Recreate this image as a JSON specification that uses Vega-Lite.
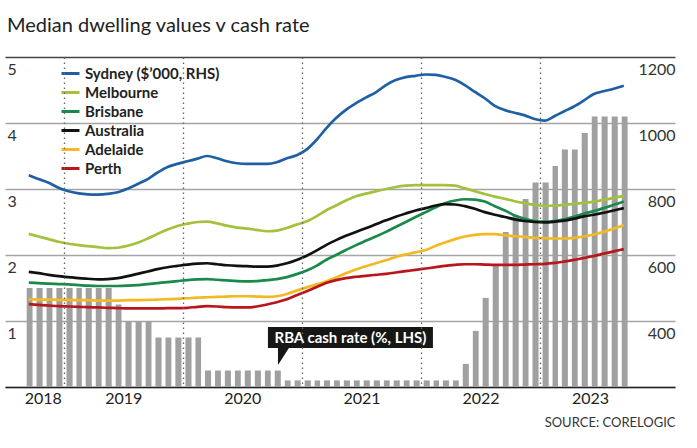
{
  "$schema": "https://vega.github.io/schema/vega-lite/v6.json",
  "width": 670,
  "height": 330,
  "autosize": {"type": "none"},
  "padding": {"left": 5, "top": 57, "right": 22, "bottom": 61},
  "background": "white",
  "title": {"text": "Median dwelling values v cash rate", "anchor": "start", "font": "Lato", "fontSize": 20, "fontWeight": "normal", "color": "#222", "baseline": "alphabetic", "offset": 5, "dx": 2},
  "config": {"view": {"stroke": null}, "font": "Lato"},
  "data": {"values": [
    {"date": "2018-09-15", "cash": 1.5, "Sydney": 842, "Melbourne": 664, "Brisbane": 516, "Australia": 549, "Adelaide": 466, "Perth": 451},
    {"date": "2018-10-15", "cash": 1.5, "Sydney": 830, "Melbourne": 656, "Brisbane": 515, "Australia": 545, "Adelaide": 465, "Perth": 449},
    {"date": "2018-11-15", "cash": 1.5, "Sydney": 819, "Melbourne": 648, "Brisbane": 513, "Australia": 540, "Adelaide": 465, "Perth": 447},
    {"date": "2018-12-15", "cash": 1.5, "Sydney": 804, "Melbourne": 640, "Brisbane": 512, "Australia": 536, "Adelaide": 464, "Perth": 445},
    {"date": "2019-01-15", "cash": 1.5, "Sydney": 793, "Melbourne": 634, "Brisbane": 511, "Australia": 533, "Adelaide": 464, "Perth": 444},
    {"date": "2019-02-15", "cash": 1.5, "Sydney": 787, "Melbourne": 630, "Brisbane": 509, "Australia": 530, "Adelaide": 463, "Perth": 443},
    {"date": "2019-03-15", "cash": 1.5, "Sydney": 784, "Melbourne": 627, "Brisbane": 507, "Australia": 528, "Adelaide": 463, "Perth": 442},
    {"date": "2019-04-15", "cash": 1.5, "Sydney": 783, "Melbourne": 624, "Brisbane": 506, "Australia": 526, "Adelaide": 462, "Perth": 441},
    {"date": "2019-05-15", "cash": 1.5, "Sydney": 785, "Melbourne": 621, "Brisbane": 506, "Australia": 527, "Adelaide": 462, "Perth": 440},
    {"date": "2019-06-15", "cash": 1.25, "Sydney": 790, "Melbourne": 622, "Brisbane": 506, "Australia": 530, "Adelaide": 462, "Perth": 439},
    {"date": "2019-07-15", "cash": 1.0, "Sydney": 801, "Melbourne": 628, "Brisbane": 507, "Australia": 536, "Adelaide": 463, "Perth": 438},
    {"date": "2019-08-15", "cash": 1.0, "Sydney": 815, "Melbourne": 637, "Brisbane": 509, "Australia": 543, "Adelaide": 463, "Perth": 438},
    {"date": "2019-09-15", "cash": 1.0, "Sydney": 830, "Melbourne": 650, "Brisbane": 512, "Australia": 550, "Adelaide": 464, "Perth": 438},
    {"date": "2019-10-15", "cash": 0.75, "Sydney": 850, "Melbourne": 664, "Brisbane": 515, "Australia": 557, "Adelaide": 465, "Perth": 438},
    {"date": "2019-11-15", "cash": 0.75, "Sydney": 867, "Melbourne": 677, "Brisbane": 518, "Australia": 563, "Adelaide": 466, "Perth": 439},
    {"date": "2019-12-15", "cash": 0.75, "Sydney": 876, "Melbourne": 688, "Brisbane": 521, "Australia": 567, "Adelaide": 467, "Perth": 439},
    {"date": "2020-01-15", "cash": 0.75, "Sydney": 884, "Melbourne": 695, "Brisbane": 524, "Australia": 571, "Adelaide": 469, "Perth": 440},
    {"date": "2020-02-15", "cash": 0.75, "Sydney": 892, "Melbourne": 700, "Brisbane": 526, "Australia": 574, "Adelaide": 471, "Perth": 443},
    {"date": "2020-03-15", "cash": 0.25, "Sydney": 900, "Melbourne": 701, "Brisbane": 527, "Australia": 575, "Adelaide": 472, "Perth": 445},
    {"date": "2020-04-15", "cash": 0.25, "Sydney": 893, "Melbourne": 696, "Brisbane": 525, "Australia": 572, "Adelaide": 473, "Perth": 444},
    {"date": "2020-05-15", "cash": 0.25, "Sydney": 884, "Melbourne": 689, "Brisbane": 523, "Australia": 569, "Adelaide": 474, "Perth": 442},
    {"date": "2020-06-15", "cash": 0.25, "Sydney": 878, "Melbourne": 683, "Brisbane": 521, "Australia": 567, "Adelaide": 475, "Perth": 441},
    {"date": "2020-07-15", "cash": 0.25, "Sydney": 876, "Melbourne": 680, "Brisbane": 520, "Australia": 566, "Adelaide": 475, "Perth": 441},
    {"date": "2020-08-15", "cash": 0.25, "Sydney": 876, "Melbourne": 676, "Brisbane": 521, "Australia": 565, "Adelaide": 474, "Perth": 444},
    {"date": "2020-09-15", "cash": 0.25, "Sydney": 876, "Melbourne": 672, "Brisbane": 524, "Australia": 565, "Adelaide": 473, "Perth": 450},
    {"date": "2020-10-15", "cash": 0.25, "Sydney": 881, "Melbourne": 674, "Brisbane": 527, "Australia": 568, "Adelaide": 475, "Perth": 457},
    {"date": "2020-11-15", "cash": 0.1, "Sydney": 893, "Melbourne": 682, "Brisbane": 533, "Australia": 575, "Adelaide": 482, "Perth": 466},
    {"date": "2020-12-15", "cash": 0.1, "Sydney": 902, "Melbourne": 692, "Brisbane": 542, "Australia": 585, "Adelaide": 492, "Perth": 478},
    {"date": "2021-01-15", "cash": 0.1, "Sydney": 920, "Melbourne": 702, "Brisbane": 553, "Australia": 598, "Adelaide": 502, "Perth": 490},
    {"date": "2021-02-15", "cash": 0.1, "Sydney": 950, "Melbourne": 718, "Brisbane": 568, "Australia": 614, "Adelaide": 511, "Perth": 503},
    {"date": "2021-03-15", "cash": 0.1, "Sydney": 983, "Melbourne": 735, "Brisbane": 585, "Australia": 630, "Adelaide": 520, "Perth": 515},
    {"date": "2021-04-15", "cash": 0.1, "Sydney": 1015, "Melbourne": 750, "Brisbane": 600, "Australia": 645, "Adelaide": 532, "Perth": 524},
    {"date": "2021-05-15", "cash": 0.1, "Sydney": 1040, "Melbourne": 765, "Brisbane": 615, "Australia": 658, "Adelaide": 545, "Perth": 530},
    {"date": "2021-06-15", "cash": 0.1, "Sydney": 1060, "Melbourne": 778, "Brisbane": 630, "Australia": 670, "Adelaide": 556, "Perth": 534},
    {"date": "2021-07-15", "cash": 0.1, "Sydney": 1077, "Melbourne": 786, "Brisbane": 643, "Australia": 681, "Adelaide": 566, "Perth": 537},
    {"date": "2021-08-15", "cash": 0.1, "Sydney": 1093, "Melbourne": 793, "Brisbane": 656, "Australia": 693, "Adelaide": 575, "Perth": 540},
    {"date": "2021-09-15", "cash": 0.1, "Sydney": 1115, "Melbourne": 800, "Brisbane": 670, "Australia": 705, "Adelaide": 584, "Perth": 543},
    {"date": "2021-10-15", "cash": 0.1, "Sydney": 1130, "Melbourne": 806, "Brisbane": 685, "Australia": 716, "Adelaide": 594, "Perth": 547},
    {"date": "2021-11-15", "cash": 0.1, "Sydney": 1139, "Melbourne": 810, "Brisbane": 700, "Australia": 726, "Adelaide": 602, "Perth": 551},
    {"date": "2021-12-15", "cash": 0.1, "Sydney": 1143, "Melbourne": 812, "Brisbane": 715, "Australia": 735, "Adelaide": 608, "Perth": 555},
    {"date": "2022-01-15", "cash": 0.1, "Sydney": 1147, "Melbourne": 812, "Brisbane": 730, "Australia": 742, "Adelaide": 615, "Perth": 559},
    {"date": "2022-02-15", "cash": 0.1, "Sydney": 1146, "Melbourne": 812, "Brisbane": 745, "Australia": 750, "Adelaide": 628, "Perth": 563},
    {"date": "2022-03-15", "cash": 0.1, "Sydney": 1140, "Melbourne": 812, "Brisbane": 757, "Australia": 754, "Adelaide": 638, "Perth": 567},
    {"date": "2022-04-15", "cash": 0.1, "Sydney": 1131, "Melbourne": 810, "Brisbane": 765, "Australia": 753, "Adelaide": 648, "Perth": 570},
    {"date": "2022-05-15", "cash": 0.35, "Sydney": 1115, "Melbourne": 802, "Brisbane": 769, "Australia": 748, "Adelaide": 656, "Perth": 572},
    {"date": "2022-06-15", "cash": 0.85, "Sydney": 1094, "Melbourne": 793, "Brisbane": 768, "Australia": 740, "Adelaide": 661, "Perth": 572},
    {"date": "2022-07-15", "cash": 1.35, "Sydney": 1075, "Melbourne": 785, "Brisbane": 762, "Australia": 730, "Adelaide": 663, "Perth": 571},
    {"date": "2022-08-15", "cash": 1.85, "Sydney": 1052, "Melbourne": 777, "Brisbane": 748, "Australia": 722, "Adelaide": 663, "Perth": 570},
    {"date": "2022-09-15", "cash": 2.35, "Sydney": 1039, "Melbourne": 770, "Brisbane": 735, "Australia": 715, "Adelaide": 660, "Perth": 570},
    {"date": "2022-10-15", "cash": 2.6, "Sydney": 1031, "Melbourne": 763, "Brisbane": 720, "Australia": 708, "Adelaide": 657, "Perth": 570},
    {"date": "2022-11-15", "cash": 2.85, "Sydney": 1023, "Melbourne": 757, "Brisbane": 710, "Australia": 703, "Adelaide": 655, "Perth": 571},
    {"date": "2022-12-15", "cash": 3.1, "Sydney": 1012, "Melbourne": 752, "Brisbane": 703, "Australia": 700, "Adelaide": 652, "Perth": 572},
    {"date": "2023-01-15", "cash": 3.1, "Sydney": 1007, "Melbourne": 749, "Brisbane": 701, "Australia": 699, "Adelaide": 651, "Perth": 573},
    {"date": "2023-02-15", "cash": 3.35, "Sydney": 1021, "Melbourne": 750, "Brisbane": 703, "Australia": 701, "Adelaide": 650, "Perth": 576},
    {"date": "2023-03-15", "cash": 3.6, "Sydney": 1035, "Melbourne": 752, "Brisbane": 708, "Australia": 704, "Adelaide": 650, "Perth": 580},
    {"date": "2023-04-15", "cash": 3.6, "Sydney": 1050, "Melbourne": 755, "Brisbane": 716, "Australia": 710, "Adelaide": 652, "Perth": 585},
    {"date": "2023-05-15", "cash": 3.85, "Sydney": 1068, "Melbourne": 758, "Brisbane": 725, "Australia": 717, "Adelaide": 656, "Perth": 591},
    {"date": "2023-06-15", "cash": 4.1, "Sydney": 1088, "Melbourne": 762, "Brisbane": 733, "Australia": 722, "Adelaide": 662, "Perth": 597},
    {"date": "2023-07-15", "cash": 4.1, "Sydney": 1096, "Melbourne": 767, "Brisbane": 742, "Australia": 728, "Adelaide": 670, "Perth": 604},
    {"date": "2023-08-15", "cash": 4.1, "Sydney": 1104, "Melbourne": 773, "Brisbane": 752, "Australia": 735, "Adelaide": 680, "Perth": 611},
    {"date": "2023-09-15", "cash": 4.1, "Sydney": 1113, "Melbourne": 779, "Brisbane": 762, "Australia": 742, "Adelaide": 690, "Perth": 618}
  ]},
  "layer": [
    {
      "layer": [
        {
          "mark": {"type": "bar", "color": "#a0a0a0", "width": {"band": 0.7}},
          "encoding": {
            "x": {"field": "date", "timeUnit": "yearmonth", "type": "temporal",
              "scale": {"domain": [{"year": 2018, "month": 7, "date": 4}, {"year": 2024, "month": 2, "date": 19}], "nice": false},
              "axis": {"values": [{"year": 2019, "month": 1, "date": 1}, {"year": 2020, "month": 1, "date": 1}, {"year": 2021, "month": 1, "date": 1}, {"year": 2022, "month": 1, "date": 1}, {"year": 2023, "month": 1, "date": 1}],
                "grid": true, "gridDash": [1.5, 3.5], "gridColor": "#666", "gridWidth": 1.3, "labels": false, "ticks": false, "domain": false, "title": null, "zindex": 1}},
            "y": {"field": "cash", "type": "quantitative", "scale": {"domain": [0, 5], "nice": false},
              "axis": {"orient": "left", "values": [0, 1, 2, 3, 4, 5], "format": "d", "title": null, "domain": false, "ticks": false, "tickSize": 0,
                "grid": true, "gridColor": {"condition": {"test": "datum.value >= 5", "value": "#444"}, "value": "#a5a5a5"}, "gridWidth": 1.5,
                "labelAlign": "left", "labelBaseline": "top", "labelPadding": -2, "labelOffset": 4, "labelFontSize": 16, "labelColor": "#333", "labelFont": "Lato",
                "labelExpr": "datum.value == 0 ? '' : datum.label"}}
          }
        },
        {
          "data": {"values": [{"note": "RBA cash rate (%, LHS)", "date": "2021-05-29", "cash": 0.75}]},
          "mark": {"type": "point", "shape": "M-7.857,-1H7.857V1H-5.857L-6.9,2.62V1H-7.857Z", "size": 441, "filled": true, "color": "#161616", "opacity": 1, "strokeWidth": 0},
          "encoding": {
            "x": {"field": "date", "type": "temporal"},
            "y": {"field": "cash", "type": "quantitative"}
          }
        },
        {
          "data": {"values": [{"note": "RBA cash rate (%, LHS)", "date": "2021-05-29", "cash": 0.75}]},
          "mark": {"type": "text", "color": "white", "font": "Lato", "fontSize": 15, "fontWeight": "bold", "align": "center", "baseline": "middle"},
          "encoding": {
            "x": {"field": "date", "type": "temporal"},
            "y": {"field": "cash", "type": "quantitative"},
            "text": {"field": "note"}
          }
        }
      ]
    },
    {
      "transform": [{"fold": ["Sydney", "Melbourne", "Brisbane", "Australia", "Adelaide", "Perth"], "as": ["city", "value"]}],
      "mark": {"type": "line", "strokeWidth": 2.7, "interpolate": "monotone"},
      "encoding": {
        "x": {"field": "date", "type": "temporal",
          "scale": {"domain": [{"year": 2018, "month": 7, "date": 4}, {"year": 2024, "month": 2, "date": 19}], "nice": false},
          "axis": {"orient": "bottom", "values": [{"year": 2018, "month": 10, "date": 28}, {"year": 2019, "month": 7, "date": 2}, {"year": 2020, "month": 7, "date": 1}, {"year": 2021, "month": 7, "date": 2}, {"year": 2022, "month": 7, "date": 2}, {"year": 2023, "month": 6, "date": 3}],
            "format": "%Y", "ticks": false, "tickSize": 0, "grid": false, "domain": true, "domainColor": "#222", "domainWidth": 1.5,
            "labelPadding": 3, "labelFontSize": 16, "labelColor": "#222", "labelFont": "Lato",
            "title": "SOURCE: CORELOGIC", "titleAnchor": "end", "titleFont": "Lato", "titleFontSize": 13, "titleFontWeight": "normal", "titleColor": "#333", "titlePadding": 10}},
        "y": {"field": "value", "type": "quantitative", "scale": {"domain": [200, 1200], "nice": false},
          "axis": {"orient": "right", "values": [400, 600, 800, 1000, 1200], "format": "d", "title": null, "domain": false, "ticks": false, "tickSize": 0, "grid": false,
            "labelAlign": "right", "labelBaseline": "top", "labelPadding": 0, "labelOffset": 4, "labelFontSize": 16, "labelColor": "#333", "labelFont": "Lato"}},
        "color": {"field": "city", "type": "nominal",
          "scale": {"domain": ["Sydney", "Melbourne", "Brisbane", "Australia", "Adelaide", "Perth"], "range": ["#1f5fa3", "#a3c13c", "#1a8a4c", "#111111", "#f3b922", "#b8161b"]},
          "legend": {"orient": "none", "legendX": 55, "legendY": 6, "title": null, "symbolType": "stroke", "symbolStrokeWidth": 3, "symbolSize": 324,
            "labelFontSize": 15, "labelFontWeight": "bold", "labelColor": "#222", "labelFont": "Lato", "rowPadding": 0, "padding": 0, "labelOffset": 4, "labelLimit": 300,
            "labelExpr": "datum.label == 'Sydney' ? 'Sydney ($’000, RHS)' : datum.label"}}
      }
    }
  ],
  "resolve": {"scale": {"y": "independent"}, "axis": {"x": "independent"}}
}
